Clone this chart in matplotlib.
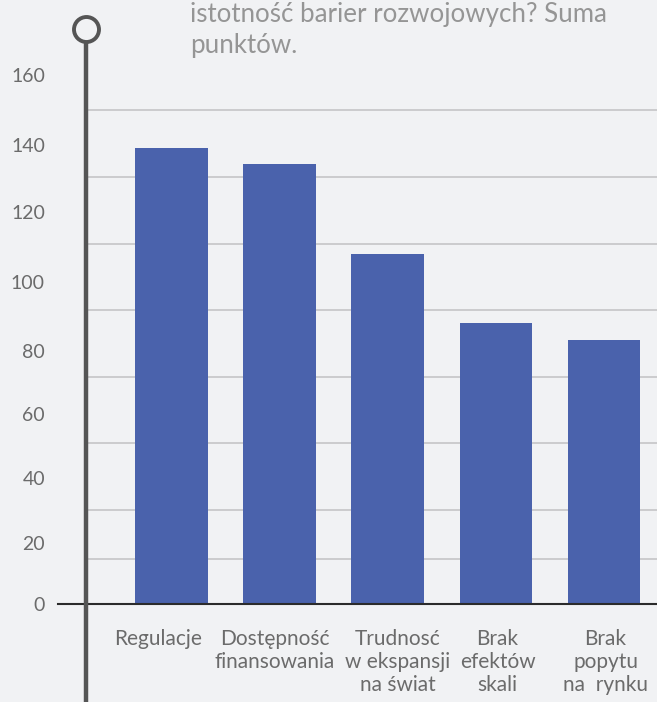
import matplotlib
matplotlib.use("Agg")
import matplotlib.pyplot as plt
from matplotlib.lines import Line2D

categories = ["Regulacje", "Dostępność\nfinansowania", "Trudnosć\nw ekspansji\nna świat",
              "Brak\nefektów\nskali", "Brak\npopytu\nna  rynku"]
values = [138, 133, 106, 85, 80]
tick_labels = ["0", "20", "40", "60", "80", "100", "120", "140", "160"]
grid_values = [149.4, 129.2, 108.9, 88.9, 68.6, 48.7, 28.4, 13.6]
title_text = "istotność barier rozwojowych? Suma\npunktów."

# layout (label positions as drawn in the infographic)
tick_positions = [0, 18.4, 38, 57.5, 76.5, 97.4, 118.5, 138.8, 160]
label_offsets = [-13, -5, 10, 2, 2]  # horizontal px shifts of category labels

BG = "#f1f2f4"
BAR = "#4a62ac"
GRAY = "#6b6b6b"

plt.rcParams['font.family'] = ['Lato', 'DejaVu Sans']

W, H = 657, 702
fig = plt.figure(figsize=(W / 100, H / 100), dpi=100, facecolor=BG)
ax = fig.add_axes([88 / W, 1 - 604 / H, (W - 88) / W, (604 - 75) / H])
ax.set_facecolor(BG)

x = list(range(len(categories)))
ax.bar(x, values, width=0.667, color=BAR, zorder=3)
for g in grid_values:
    ax.axhline(g, color="#c9c9cb", lw=1.3, zorder=1)

ax.set_xlim(-0.773, 4.495)
ax.set_ylim(0, 160)
for s in ax.spines.values():
    s.set_visible(False)

ax.set_yticks(tick_positions)
ax.set_yticklabels(tick_labels)
ax.tick_params(axis='y', length=0, pad=31, labelsize=14, labelcolor=GRAY)
ax.set_xticks([])

for xi, lab, off in zip(x, categories, label_offsets):
    ax.annotate(lab, xy=(xi, 0), xycoords='data', xytext=(off * 0.72, -18), textcoords='offset points',
                ha='center', va='top', multialignment='center', fontsize=15, color=GRAY,
                linespacing=1.2, annotation_clip=False)

# baseline
fig.add_artist(Line2D([58 / W, 1.0], [1 - 604 / H, 1 - 604 / H], color="#2b2b2b", lw=1.5))
# vertical axis line with circle
fig.add_artist(Line2D([86 / W, 86 / W], [0, 1 - 42 / H], color="#555555", lw=3.2, zorder=5))
fig.add_artist(Line2D([86 / W], [1 - 29 / H], marker='o', markersize=18, markerfacecolor=BG,
                      markeredgecolor="#555555", markeredgewidth=2.8, zorder=6))

fig.text(190 / W, 1 - 2 / H, title_text, ha='left', va='top', fontsize=18.6, color="#959595",
         linespacing=1.32)

fig.savefig("out.png", dpi=100, facecolor=BG)
